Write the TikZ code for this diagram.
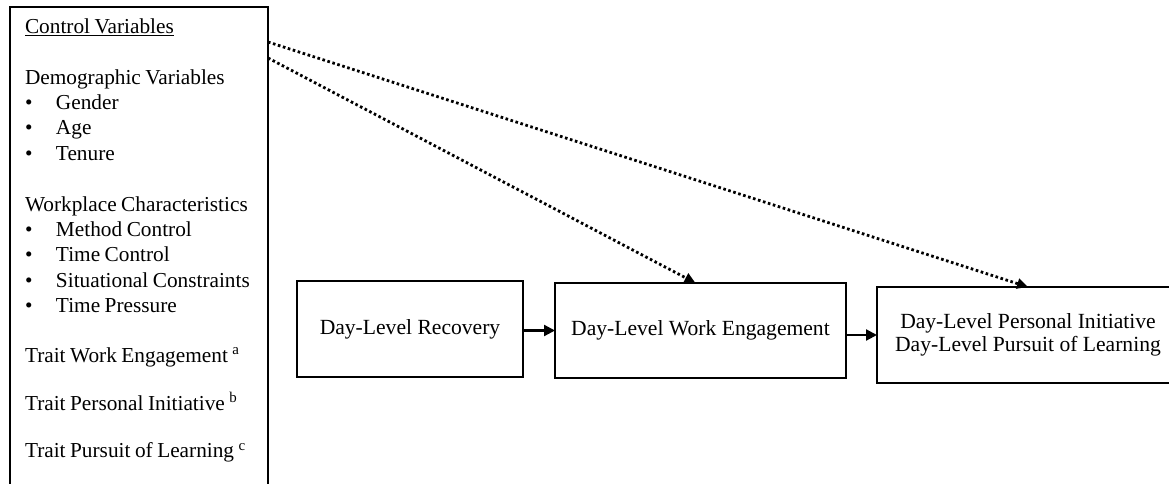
\documentclass[tikz,border=0pt]{standalone}
\usepackage{fontspec}
\setmainfont{Liberation Serif}
\usetikzlibrary{arrows.meta}
\newcommand\itemdot{\makebox[31pt][l]{\textbullet}}
\newcommand\tightspaces{\spaceskip=4.5pt plus 1pt minus 1pt\relax}
\begin{document}
\begin{tikzpicture}[x=1pt,y=1pt,
  box/.style={draw, line width=1.7pt, outer sep=0pt, inner sep=0pt, align=center,
    font=\fontsize{21.6}{23}\selectfont},
  flow/.style={line width=2.2pt, -{Triangle[length=11pt,width=11pt]}},
  ctrl/.style={line width=2.8pt, dash pattern=on 2.6pt off 2.6pt,
    -{Triangle[length=11pt,width=10pt]}}]
\useasboundingbox (0,0) rectangle (1169,-484);
\clip (0,0) rectangle (1169,-484);

% control variables panel (runs off the bottom edge)
\node[draw, line width=1.7pt, outer sep=0pt, anchor=north west,
      inner xsep=15pt, inner ysep=11.5pt, text width=228pt, align=left,
      font=\fontsize{21.3}{25.4}\selectfont] (cv) at (10,-7) {\tightspaces
  \mbox{\underline{Control Variables}}\\[25.4pt]
  \mbox{Demographic Variables}\\
  \itemdot Gender\\
  \itemdot Age\\
  \itemdot Tenure\\[25.4pt]
  \mbox{Workplace Characteristics}\\
  \mbox{\itemdot Method Control}\\
  \mbox{\itemdot Time Control}\\
  \mbox{\itemdot Situational Constraints}\\
  \mbox{\itemdot Time Pressure}\\[24pt]
  \mbox{Trait Work Engagement \textsuperscript{a}}\\[23pt]
  \mbox{Trait Personal Initiative \textsuperscript{b}}\\[22pt]
  \mbox{Trait Pursuit of Learning \textsuperscript{c}}\\[30pt]
  \mbox{}};

% day-level chain
\node[box, minimum width=226pt, minimum height=96pt] (rec) at (410,-329) {Day-Level Recovery};
\node[box, minimum width=291pt, minimum height=95pt] (eng) at (700.5,-330.5) {Day-Level Work Engagement};
\node[box, minimum width=302pt, minimum height=96pt] (out) at (1028,-335)
  {Day-Level Personal Initiative\\Day-Level Pursuit of Learning};

% control paths
\coordinate (c1) at ([yshift=-35pt]cv.north east);
\coordinate (c2) at ([yshift=-51pt]cv.north east);
\draw[ctrl] (c2) -- ([xshift=-5pt]eng.north);
\draw[ctrl] (c1) -- (out.north);

% main effects
\draw[flow] (eng.west -| rec.east) -- (eng.west);
\draw[flow] (out.west -| eng.east) -- (out.west);
\end{tikzpicture}
\end{document}
